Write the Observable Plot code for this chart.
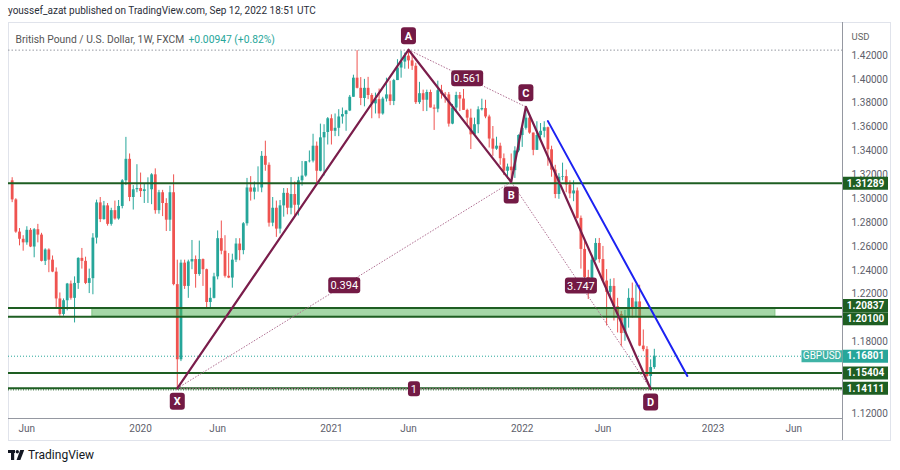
<!DOCTYPE html>
<html><head><meta charset="utf-8">
<script src="https://cdn.jsdelivr.net/npm/d3@7"></script>
<script src="https://cdn.jsdelivr.net/npm/@observablehq/plot@0.6"></script>
<style>
html,body{margin:0;padding:0;background:#fff;}
body{width:900px;height:470px;overflow:hidden;position:relative;font-family:Roboto,"Open Sans",sans-serif;}
#hdr{position:absolute;left:8px;top:5px;font-size:10px;color:#2a2e39;white-space:nowrap;}
#box{position:absolute;left:8px;top:22px;width:883px;height:419px;box-sizing:border-box;border:1px solid #e0e3eb;}
#chart{position:absolute;left:0;top:22px;}
#ftr{position:absolute;left:8px;top:448px;font-size:12px;color:#131722;display:flex;align-items:center;gap:3px;}
</style></head>
<body>
<div id="hdr">youssef_azat published on TradingView.com, Sep 12, 2022 18:51 UTC</div>
<div id="box"></div>
<div id="chart"></div>
<div id="ftr"><svg width="17" height="11" viewBox="0 0 17 11"><rect x="0" y="0" width="7" height="3" fill="#131722"/><rect x="3" y="0" width="3.2" height="10" fill="#131722"/><circle cx="9.3" cy="1.7" r="1.7" fill="#131722"/><polygon points="12.2,0 16.2,0 12.4,10 8.6,10" fill="#131722"/></svg><span>TradingView</span></div>
<script>
// ---------- data ----------
const weeks = [
"2019-05-06","2019-05-13","2019-05-20","2019-05-27","2019-06-03","2019-06-10","2019-06-17","2019-06-24","2019-07-01","2019-07-08","2019-07-15","2019-07-22","2019-07-29","2019-08-05","2019-08-12","2019-08-19","2019-08-26","2019-09-02","2019-09-09","2019-09-16","2019-09-23","2019-09-30","2019-10-07","2019-10-14","2019-10-21","2019-10-28","2019-11-04","2019-11-11","2019-11-18","2019-11-25","2019-12-02","2019-12-09","2019-12-16","2019-12-23","2019-12-30",
"2020-01-06","2020-01-13","2020-01-20","2020-01-27","2020-02-03","2020-02-10","2020-02-17","2020-02-24","2020-03-02","2020-03-09","2020-03-16","2020-03-23","2020-03-30","2020-04-06","2020-04-13","2020-04-20","2020-04-27","2020-05-04","2020-05-11","2020-05-18","2020-05-25","2020-06-01","2020-06-08","2020-06-15","2020-06-22","2020-06-29","2020-07-06","2020-07-13","2020-07-20","2020-07-27","2020-08-03","2020-08-10","2020-08-17","2020-08-24","2020-08-31","2020-09-07","2020-09-14","2020-09-21","2020-09-28","2020-10-05","2020-10-12","2020-10-19","2020-10-26","2020-11-02","2020-11-09","2020-11-16","2020-11-23","2020-11-30","2020-12-07","2020-12-14","2020-12-21","2020-12-28",
"2021-01-04","2021-01-11","2021-01-18","2021-01-25","2021-02-01","2021-02-08","2021-02-15","2021-02-22","2021-03-01","2021-03-08","2021-03-15","2021-03-22","2021-03-29","2021-04-05","2021-04-12","2021-04-19","2021-04-26","2021-05-03","2021-05-10","2021-05-17","2021-05-24","2021-05-31","2021-06-07","2021-06-14","2021-06-21","2021-06-28","2021-07-05","2021-07-12","2021-07-19","2021-07-26","2021-08-02","2021-08-09","2021-08-16","2021-08-23","2021-08-30","2021-09-06","2021-09-13","2021-09-20","2021-09-27","2021-10-04","2021-10-11","2021-10-18","2021-10-25","2021-11-01","2021-11-08","2021-11-15","2021-11-22","2021-11-29","2021-12-06","2021-12-13","2021-12-20","2021-12-27",
"2022-01-03","2022-01-10","2022-01-17","2022-01-24","2022-01-31","2022-02-07","2022-02-14","2022-02-21","2022-02-28","2022-03-07","2022-03-14","2022-03-21","2022-03-28","2022-04-04","2022-04-11","2022-04-18","2022-04-25","2022-05-02","2022-05-09","2022-05-16","2022-05-23","2022-05-30","2022-06-06","2022-06-13","2022-06-20","2022-06-27","2022-07-04","2022-07-11","2022-07-18","2022-07-25","2022-08-01","2022-08-08","2022-08-15","2022-08-22","2022-08-29","2022-09-05","2022-09-12"
];
// [open, high, low, close]
const ohlc2019 = [
[1.3150,1.3176,1.2967,1.2990],[1.2990,1.3000,1.2710,1.2720],[1.2720,1.2750,1.2605,1.2660],[1.2660,1.2690,1.2560,1.2630],
[1.2630,1.2765,1.2610,1.2735],[1.2735,1.2750,1.2590,1.2595],[1.2595,1.2750,1.2505,1.2740],[1.2740,1.2785,1.2630,1.2695],
[1.2695,1.2710,1.2470,1.2475],[1.2475,1.2580,1.2440,1.2570],[1.2570,1.2580,1.2380,1.2485],[1.2485,1.2520,1.2380,1.2385],
[1.2385,1.2420,1.2080,1.2160],[1.2160,1.2210,1.2015,1.2030],[1.2030,1.2160,1.2015,1.2145],[1.2145,1.2290,1.2060,1.2285],
[1.2285,1.2310,1.2150,1.2165],[1.2165,1.2345,1.1959,1.2290],[1.2290,1.2505,1.2240,1.2500],[1.2500,1.2583,1.2410,1.2475],
[1.2475,1.2510,1.2280,1.2290],[1.2290,1.2410,1.2205,1.2330],[1.2330,1.2707,1.2195,1.2670],[1.2670,1.2988,1.2620,1.2965],
[1.2965,1.3010,1.2800,1.2825],[1.2825,1.2977,1.2820,1.2940],[1.2940,1.2960,1.2770,1.2785],[1.2785,1.2920,1.2770,1.2900],
[1.2900,1.2980,1.2820,1.2830],[1.2830,1.2985,1.2820,1.2935],[1.2935,1.3160,1.2915,1.3150],[1.3150,1.3514,1.3110,1.3330],
[1.3330,1.3375,1.2975,1.3010],[1.3010,1.3110,1.2905,1.3075],[1.3075,1.3285,1.3050,1.3085]
];
const ohlc2020 = [
[1.3085,1.3215,1.3010,1.3060],[1.3060,1.3120,1.2960,1.3075],[1.3075,1.3175,1.2960,1.3075],[1.3075,1.3210,1.2950,1.3200],
[1.3200,1.3250,1.2870,1.2900],[1.2900,1.3070,1.2870,1.3050],[1.3050,1.3070,1.2850,1.2960],[1.2960,1.3000,1.2725,1.2820],
[1.2820,1.3105,1.2725,1.3050],[1.3050,1.3200,1.2270,1.2280],[1.2280,1.2485,1.1409,1.1650],[1.1650,1.2485,1.1635,1.2460],
[1.2460,1.2485,1.2240,1.2265],[1.2265,1.2485,1.2165,1.2470],[1.2470,1.2650,1.2405,1.2490],[1.2490,1.2520,1.2250,1.2365],
[1.2365,1.2645,1.2350,1.2490],[1.2490,1.2495,1.2265,1.2405],[1.2405,1.2410,1.2075,1.2130],[1.2130,1.2250,1.2075,1.2165],
[1.2165,1.2375,1.2160,1.2345],[1.2345,1.2730,1.2320,1.2665],[1.2665,1.2813,1.2530,1.2560],[1.2560,1.2690,1.2335,1.2350],
[1.2350,1.2540,1.2330,1.2335],[1.2335,1.2535,1.2250,1.2485],[1.2485,1.2665,1.2465,1.2620],[1.2620,1.2665,1.2480,1.2565],
[1.2565,1.2800,1.2530,1.2790],[1.2790,1.3170,1.2770,1.3090],[1.3090,1.3185,1.2980,1.3055],[1.3055,1.3140,1.2990,1.3090],
[1.3090,1.3267,1.3055,1.3090],[1.3090,1.3395,1.3050,1.3355],[1.3355,1.3482,1.3230,1.3280],[1.3280,1.3300,1.2762,1.2795],
[1.2795,1.3010,1.2765,1.2920],[1.2920,1.2980,1.2676,1.2745],[1.2745,1.2985,1.2705,1.2940],[1.2940,1.3085,1.2845,1.3045],
[1.3045,1.3085,1.2865,1.2920],[1.2920,1.3177,1.2865,1.3035],[1.3035,1.3140,1.2855,1.2945],[1.2945,1.3180,1.2855,1.3150],
[1.3150,1.3312,1.3105,1.3190],[1.3190,1.3310,1.3180,1.3310],[1.3310,1.3400,1.3300,1.3315],[1.3315,1.3540,1.3300,1.3440],
[1.3440,1.3475,1.3135,1.3230],[1.3230,1.3625,1.3225,1.3510],[1.3510,1.3620,1.3190,1.3555],[1.3555,1.3680,1.3450,1.3670]
];
const ohlc2021 = [
[1.3670,1.3703,1.3450,1.3565],[1.3565,1.3710,1.3520,1.3590],[1.3590,1.3746,1.3520,1.3685],[1.3685,1.3760,1.3625,1.3705],
[1.3705,1.3740,1.3565,1.3735],[1.3735,1.3865,1.3730,1.3850],[1.3850,1.4035,1.3850,1.4010],[1.4010,1.4241,1.3920,1.3925],
[1.3925,1.4015,1.3780,1.3840],[1.3840,1.4000,1.3770,1.3925],[1.3925,1.4017,1.3830,1.3865],[1.3865,1.3880,1.3670,1.3795],
[1.3795,1.3885,1.3710,1.3830],[1.3830,1.3919,1.3670,1.3710],[1.3710,1.3850,1.3700,1.3835],[1.3835,1.4010,1.3810,1.3870],
[1.3870,1.3985,1.3780,1.3815],[1.3815,1.4000,1.3780,1.3990],[1.3990,1.4165,1.3990,1.4095],[1.4095,1.4235,1.4010,1.4145],
[1.4145,1.4220,1.4085,1.4195],[1.4195,1.4249,1.4085,1.4155],[1.4155,1.4200,1.4075,1.4110],[1.4110,1.4135,1.3790,1.3805],
[1.3805,1.3975,1.3790,1.3880],[1.3880,1.3910,1.3730,1.3825],[1.3825,1.3910,1.3730,1.3890],[1.3890,1.3910,1.3760,1.3760],
[1.3760,1.3785,1.3572,1.3750],[1.3750,1.3985,1.3720,1.3905],[1.3905,1.3950,1.3835,1.3875],[1.3875,1.3890,1.3800,1.3870],
[1.3870,1.3890,1.3600,1.3625],[1.3625,1.3790,1.3620,1.3760],[1.3760,1.3892,1.3725,1.3865],[1.3865,1.3890,1.3730,1.3835],
[1.3835,1.3915,1.3740,1.3740],[1.3740,1.3750,1.3610,1.3675],[1.3675,1.3750,1.3412,1.3535],[1.3535,1.3675,1.3540,1.3620],
[1.3620,1.3770,1.3545,1.3745],[1.3745,1.3834,1.3735,1.3755],[1.3755,1.3825,1.3670,1.3685],[1.3685,1.3700,1.3425,1.3500],
[1.3500,1.3605,1.3355,1.3415],[1.3415,1.3515,1.3405,1.3440],[1.3440,1.3465,1.3280,1.3335],[1.3335,1.3375,1.3194,1.3230],
[1.3230,1.3290,1.3161,1.3265],[1.3265,1.3375,1.3160,1.3235],[1.3235,1.3435,1.3170,1.3400],[1.3400,1.3535,1.3385,1.3530]
];
const ohlc2022 = [
[1.3530,1.3600,1.3430,1.3590],[1.3590,1.3749,1.3575,1.3675],[1.3675,1.3685,1.3540,1.3550],[1.3550,1.3550,1.3360,1.3405],
[1.3405,1.3645,1.3405,1.3530],[1.3530,1.3630,1.3490,1.3565],[1.3565,1.3645,1.3510,1.3595],[1.3595,1.3600,1.3272,1.3410],
[1.3410,1.3440,1.3180,1.3240],[1.3240,1.3280,1.3000,1.3035],[1.3035,1.3210,1.2995,1.3180],[1.3180,1.3298,1.3150,1.3185],
[1.3185,1.3240,1.3050,1.3115],[1.3115,1.3150,1.3000,1.3040],[1.3040,1.3150,1.2975,1.3065],[1.3065,1.3090,1.2830,1.2835],
[1.2835,1.2855,1.2410,1.2575],[1.2575,1.2640,1.2325,1.2340],[1.2340,1.2400,1.2155,1.2265],[1.2265,1.2525,1.2230,1.2485],
[1.2485,1.2665,1.2475,1.2625],[1.2625,1.2667,1.2460,1.2490],[1.2490,1.2600,1.2300,1.2310],[1.2310,1.2406,1.1933,1.2215],
[1.2215,1.2325,1.2160,1.2265],[1.2265,1.2330,1.1975,1.2095],[1.2095,1.2165,1.1875,1.2030],[1.2030,1.2055,1.1760,1.1870],
[1.1870,1.2064,1.1805,1.2005],[1.2005,1.2245,1.1915,1.2165],[1.2165,1.2293,1.2000,1.2075],[1.2075,1.2277,1.2005,1.2135],
[1.2135,1.2275,1.1760,1.1765],[1.1765,1.1900,1.1718,1.1735],[1.1735,1.1760,1.1500,1.1510],[1.1510,1.1650,1.1405,1.1585],
[1.1585,1.1738,1.1570,1.1680]
];

// harmonic pattern points
const patternNames  = ["X", "A", "B", "C", "D"];
const patternDates  = ["2020-03-16", "2021-05-31", "2021-12-13", "2022-01-10", "2022-09-05"];
const patternPrices = [1.1411, 1.4248, 1.3140, 1.3770, 1.1405];
// dotted retracement legs (from, to) and their ratios
const legFrom   = ["X", "A", "B", "X"];
const legTo     = ["B", "C", "D", "D"];
const legRatios = ["0.394", "0.561", "3.747", "1"];

// horizontal levels
const greenLevels = [1.31289, 1.20837, 1.20100, 1.15404, 1.14111];
const lastPrice = 1.16801;
const highLevel = 1.4245;
// zone
const zoneDates  = ["2019-10-06", "2023-05-01"];
const zonePrices = [1.20100, 1.20837];
// blue trend line
const trendDates  = ["2022-02-21", "2022-11-14"];
const trendPrices = [1.3650, 1.1515];

// axes (1.14, 1.16 and 1.20 sit under the price badges, so they are not shown)
const yTicks = [1.12,1.18,1.22,1.24,1.26,1.28,1.30,1.32,1.34,1.36,1.38,1.40,1.42];
const xTickDates  = ["2019-06-03","2020-01-06","2020-06-01","2021-01-04","2021-05-31","2022-01-03","2022-06-06","2023-01-02","2023-06-05"];
const xTickLabels = ["Jun","2020","Jun","2021","Jun","2022","Jun","2023","Jun"];

const legendTitle = "British Pound / U.S. Dollar, 1W, FXCM";
const legendChange = "+0.00947 (+0.82%)";
const symbolName = "GBPUSD";

// ---------- build ----------
const allOhlc = [...ohlc2019, ...ohlc2020, ...ohlc2021, ...ohlc2022];
const candles = weeks.map((w, i) => ({date: new Date(w), open: allOhlc[i][0], high: allOhlc[i][1], low: allOhlc[i][2], close: allOhlc[i][3]}));
const UP = "#26a69a", DN = "#ef5350";
const col = d => d.close >= d.open ? UP : DN;

const pts = patternNames.map((n, i) => ({name: n, date: new Date(patternDates[i]), price: patternPrices[i]}));
const P = Object.fromEntries(pts.map(p => [p.name, p]));
const legs = legFrom.map((f, i) => ({a: P[f], b: P[legTo[i]], label: legRatios[i]}));
const legMid = legs.map(l => ({date: new Date((+l.a.date + +l.b.date) / 2), price: (l.a.price + l.b.price) / 2, label: l.label}));
const above = pts.filter(p => p.name === "A" || p.name === "C");
const below = pts.filter(p => p.name !== "A" && p.name !== "C");
const trend = trendDates.map((d, i) => ({date: new Date(d), price: trendPrices[i]}));
const xTicks = xTickDates.map(d => new Date(d));

function box(w, h, r) {
  return {draw(ctx) {
    const x0 = -w / 2, x1 = w / 2, y0 = -h / 2, y1 = h / 2;
    if (!r) { ctx.moveTo(x0, y0); ctx.lineTo(x1, y0); ctx.lineTo(x1, y1); ctx.lineTo(x0, y1); ctx.closePath(); return; }
    ctx.moveTo(x0 + r, y0); ctx.lineTo(x1 - r, y0); ctx.arcTo(x1, y0, x1, y0 + r, r);
    ctx.lineTo(x1, y1 - r); ctx.arcTo(x1, y1, x1 - r, y1, r);
    ctx.lineTo(x0 + r, y1); ctx.arcTo(x0, y1, x0, y1 - r, r);
    ctx.lineTo(x0, y0 + r); ctx.arcTo(x0, y0, x0 + r, y0, r);
    ctx.closePath();
  }};
}

const MAROON = "#7a1d4b", LABEL = "#731a45", GREEN = "#1e5e22";
const yMin = 1.11581, yMax = 1.44766;
const xStart = new Date("2019-04-29"), xEnd = new Date("2023-09-06");
const fmt5 = d3.format(".5f");

// price-scale badges: the two close zone levels are nudged apart like TradingView does
function badge(vals, fill, dy) {
  return [
    Plot.dot(vals, {y: d => d, frameAnchor: "right", dx: 23, dy, symbol: box(45, 13, 0), fill, stroke: "none"}),
    Plot.text(vals, {y: d => d, frameAnchor: "right", dx: 23, dy, textAnchor: "middle", text: d => fmt5(d), fill: "white", fontWeight: "bold", fontSize: 10})
  ];
}

const chart = Plot.plot({
  width: 900, height: 418,
  marginLeft: 8, marginRight: 58, marginTop: 0, marginBottom: 22,
  style: {fontFamily: "Roboto, 'Open Sans', sans-serif", fontSize: "10px", background: "transparent", color: "#5d606b"},
  x: {type: "utc", domain: [xStart, xEnd], ticks: xTicks, tickSize: 0, tickPadding: 6, label: null,
      tickFormat: d => xTickLabels[xTicks.findIndex(t => +t === +d)]},
  y: {domain: [yMin, yMax], axis: "right", ticks: yTicks, tickSize: 0, tickPadding: 9, label: null,
      tickFormat: fmt5},
  marks: [
    // frame separators
    Plot.ruleY([yMin], {stroke: "#9598a1", strokeWidth: 1}),
    Plot.ruleX([xEnd], {y1: yMin - 22 / 1193, y2: yMax, stroke: "#9598a1", strokeWidth: 1}),
    // candles
    Plot.ruleX(candles, {x: "date", y1: "low", y2: "high", stroke: col, strokeWidth: 1}),
    Plot.ruleX(candles, {x: "date", y1: "open", y2: "close", stroke: col, strokeWidth: 2.8}),
    // zone
    Plot.rect([0], {x1: () => new Date(zoneDates[0]), x2: () => new Date(zoneDates[1]), y1: () => zonePrices[0], y2: () => zonePrices[1],
                    fill: "#4caf50", fillOpacity: 0.5, stroke: "#81c784", strokeWidth: 1}),
    // levels
    Plot.ruleY([highLevel], {stroke: "#9598a1", strokeWidth: 1, strokeDasharray: "1.5,2"}),
    Plot.ruleY([lastPrice], {stroke: UP, strokeWidth: 1, strokeDasharray: "1,2"}),
    Plot.ruleY(greenLevels, {stroke: GREEN, strokeWidth: 2}),
    Plot.ruleY([greenLevels[4] - 0.0013], {stroke: GREEN, strokeWidth: 1, strokeDasharray: "1,1.5"}),
    // dotted legs
    Plot.link(legs, {x1: d => d.a.date, y1: d => d.a.price, x2: d => d.b.date, y2: d => d.b.price,
                     stroke: "#b06f92", strokeWidth: 1, strokeDasharray: "1.5,1.5"}),
    // pattern
    Plot.line(pts, {x: "date", y: "price", stroke: MAROON, strokeWidth: 2.2}),
    // blue trend line
    Plot.line(trend, {x: "date", y: "price", stroke: "#1c22f2", strokeWidth: 2}),
    // ratio labels
    Plot.dot(legMid.filter(d => d.label.length > 1), {x: "date", y: "price", symbol: box(32, 16, 3), fill: LABEL, stroke: "none"}),
    Plot.dot(legMid.filter(d => d.label.length === 1), {x: "date", y: "price", symbol: box(12, 15, 3), fill: LABEL, stroke: "none"}),
    Plot.text(legMid, {x: "date", y: "price", text: "label", fill: "white", fontSize: 11, dy: 0.5}),
    // point labels
    Plot.dot(above, {x: "date", y: "price", dy: -14, symbol: box(15, 17, 3), fill: LABEL, stroke: "none"}),
    Plot.text(above, {x: "date", y: "price", dy: -13.5, text: "name", fill: "white", fontSize: 11, fontWeight: "bold"}),
    Plot.dot(below, {x: "date", y: "price", dy: 13, symbol: box(15, 17, 3), fill: LABEL, stroke: "none"}),
    Plot.text(below, {x: "date", y: "price", dy: 13.5, text: "name", fill: "white", fontSize: 11, fontWeight: "bold"}),
    // price scale labels
    ...badge([greenLevels[0], greenLevels[3], greenLevels[4]], GREEN, 0),
    ...badge([greenLevels[1]], GREEN, -2.5),
    ...badge([greenLevels[2]], GREEN, 2),
    ...badge([lastPrice], UP, 0),
    Plot.dot([lastPrice], {y: d => d, frameAnchor: "right", dx: -20.5, symbol: box(41, 12, 0), fill: "#3fb3a6", stroke: "none"}),
    Plot.text([lastPrice], {y: d => d, frameAnchor: "right", dx: -20.5, textAnchor: "middle", text: () => symbolName, fill: "white", fontSize: 10}),
    // legend & unit
    Plot.text([0], {frameAnchor: "top-left", dx: 7, dy: 13, text: () => legendTitle, textAnchor: "start", fill: "#555", fontSize: 10.3}),
    Plot.text([0], {frameAnchor: "top-left", dx: 180, dy: 13, text: () => legendChange, textAnchor: "start", fill: UP, fontSize: 10.3}),
    Plot.text([0], {frameAnchor: "top-right", dx: 9, dy: 11, text: () => "USD", textAnchor: "start", fill: "#666", fontSize: 9.5})
  ]
});
document.getElementById("chart").append(chart);
</script>
</body></html>
